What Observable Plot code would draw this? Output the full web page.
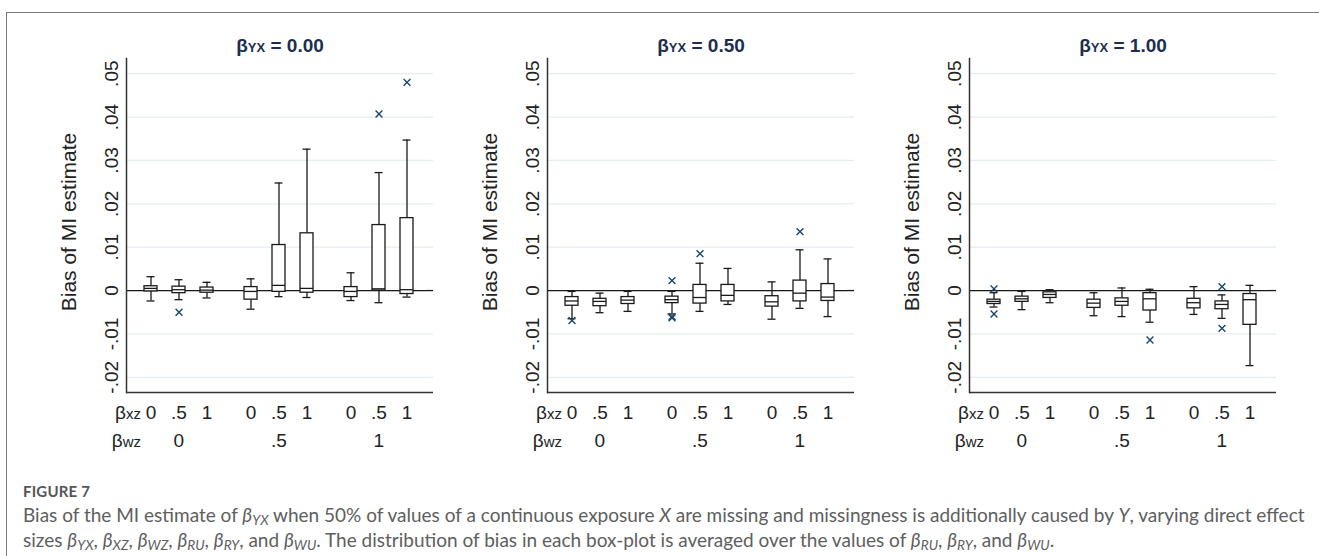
<!DOCTYPE html>
<html><head><meta charset="utf-8">
<script src="https://cdn.jsdelivr.net/npm/d3@7"></script>
<script src="https://cdn.jsdelivr.net/npm/@observablehq/plot@0.6"></script>
<style>
html,body{margin:0;padding:0;background:#fff;}
body{width:1319px;height:556px;overflow:hidden;position:relative;font-family:"Liberation Sans",Arial,sans-serif;}
#frame{position:absolute;left:6px;top:12px;width:1400px;height:600px;border-left:1px solid #7a7a7a;border-top:1px solid #7a7a7a;}
.panel{position:absolute;top:55px;}
.title{position:absolute;top:36px;transform:translateX(-50%);font-weight:bold;font-size:19px;line-height:1;color:#1c2e4f;white-space:nowrap;}
.title small{font-size:13px;}
.ylab{position:absolute;font-size:21px;line-height:1;color:#222;transform:translate(-50%,-50%) rotate(-90deg);white-space:nowrap;}
.blab{position:absolute;font-size:19px;line-height:1;color:#222;transform:translateX(-100%);white-space:nowrap;}
.blab small{font-size:15px;}
.cap{position:absolute;left:23px;white-space:nowrap;line-height:1;font-family:Lato,"Open Sans",sans-serif;color:#5e5e5e;}
.cap sub{font-size:0.72em;vertical-align:-0.25em;line-height:0;}
#fig{font-size:15px;font-weight:bold;color:#555;top:484px;letter-spacing:0.2px;}
</style></head>
<body>
<div id="frame"></div>
<div id="root"></div>
<div class="cap" id="fig">FIGURE 7</div>
<div class="cap" id="l1"><span>Bias of the MI estimate of <i>β<sub>YX</sub></i> when 50% of values of a continuous exposure <i>X</i> are missing and missingness is additionally caused by <i>Y</i>, varying direct effect</span></div>
<div class="cap" id="l2"><span>sizes <i>β<sub>YX</sub></i>, <i>β<sub>XZ</sub></i>, <i>β<sub>WZ</sub></i>, <i>β<sub>RU</sub></i>, <i>β<sub>RY</sub></i>, and <i>β<sub>WU</sub></i>. The distribution of bias in each box-plot is averaged over the values of <i>β<sub>RU</sub></i>, <i>β<sub>RY</sub></i>, and <i>β<sub>WU</sub></i>.</span></div>
<script>
// ---- data ----
const bYX = ["0.00", "0.50", "1.00"];
const bXZ = ["0", ".5", "1"];
const bWZ = ["0", ".5", "1"];
const yTicks = [-0.02, -0.01, 0, 0.01, 0.02, 0.03, 0.04, 0.05];
const yTickLabels = ["-.02", "-.01", "0", ".01", ".02", ".03", ".04", ".05"];
const yDomain = [-0.0235, 0.0535];

// box order within a panel: (βwz 0: βxz 0,.5,1), (βwz .5: ...), (βwz 1: ...)
const lowerWhisker = [
  [-0.0024, -0.0021, -0.0017, -0.0043, -0.0014, -0.0016, -0.0023, -0.0028, -0.0015],
  [-0.0065, -0.0051, -0.0048, -0.0054, -0.0048, -0.0032, -0.0066, -0.0041, -0.0060],
  [-0.0038, -0.0044, -0.0028, -0.0058, -0.0060, -0.0073, -0.0055, -0.0064, -0.0173]
];
const q1 = [
  [-0.0002, -0.0006, -0.0005, -0.0021, -0.0003, -0.0005, -0.0015, 0.0000, -0.0008],
  [-0.0035, -0.0036, -0.0031, -0.0029, -0.0030, -0.0025, -0.0037, -0.0025, -0.0024],
  [-0.0031, -0.0026, -0.0017, -0.0040, -0.0035, -0.0046, -0.0041, -0.0043, -0.0079]
];
const median = [
  [0.0005, 0.0002, 0.0001, -0.0002, 0.0012, 0.0005, -0.0002, 0.0004, 0.0002],
  [-0.0024, -0.0025, -0.0022, -0.0021, -0.0016, -0.0011, -0.0026, -0.0006, -0.0015],
  [-0.0025, -0.0019, -0.0009, -0.0029, -0.0025, -0.0019, -0.0028, -0.0032, -0.0021]
];
const q3 = [
  [0.0010, 0.0009, 0.0007, 0.0008, 0.0105, 0.0132, 0.0008, 0.0151, 0.0167],
  [-0.0015, -0.0019, -0.0015, -0.0014, 0.0013, 0.0013, -0.0013, 0.0023, 0.0015],
  [-0.0021, -0.0014, -0.0004, -0.0021, -0.0018, -0.0006, -0.0019, -0.0025, -0.0008]
];
const upperWhisker = [
  [0.0032, 0.0025, 0.0019, 0.0027, 0.0248, 0.0326, 0.0041, 0.0272, 0.0347],
  [-0.0002, -0.0006, -0.0002, -0.0002, 0.0063, 0.0051, 0.0020, 0.0094, 0.0073],
  [-0.0005, -0.0002, 0.0002, -0.0005, 0.0006, 0.0003, 0.0009, -0.0010, 0.0012]
];
// outliers
const outlierPanel = [0, 0, 0, 1, 1, 1, 1, 1, 1, 2, 2, 2, 2, 2];
const outlierWZ    = ["0", "1", "1", "0", ".5", ".5", ".5", ".5", "1", "0", "0", ".5", "1", "1"];
const outlierXZ    = [".5", ".5", "1", "0", "0", "0", "0", ".5", ".5", "0", "0", "1", ".5", ".5"];
const outlierValue = [-0.0050, 0.0407, 0.0480, -0.0069, 0.0023, -0.0060, -0.0063, 0.0085, 0.0136, 0.0004, -0.0054, -0.0114, 0.0009, -0.0087];

// ---- layout ----
const panelLeft = [40, 461, 883];
const W = 420, H = 400, ML = 86, MR = 26, MT = 3, MB = 63;
const root = document.getElementById("root");
const lineCol = "#1a1a1a";

bYX.forEach((yx, p) => {
  const rows = bWZ.flatMap((wz, g) => bXZ.map((xz, j) => {
    const i = g * 3 + j;
    return {wz, xz, lo: lowerWhisker[p][i], q1: q1[p][i], med: median[p][i], q3: q3[p][i], hi: upperWhisker[p][i]};
  }));
  const outs = outlierValue.map((v, k) => ({p: outlierPanel[k], wz: outlierWZ[k], xz: outlierXZ[k], v})).filter(d => d.p === p);

  const chart = Plot.plot({
    width: W, height: H, marginLeft: ML, marginRight: MR, marginTop: MT, marginBottom: MB,
    style: {fontFamily: "Liberation Sans, Arial, sans-serif", color: "#222", background: "transparent", overflow: "visible"},
    y: {domain: yDomain},
    x: {domain: bXZ, paddingInner: 0.5455, paddingOuter: 0.528, align: 0.58},
    fx: {domain: bWZ, paddingInner: 0, paddingOuter: 0.034, align: 0},
    marks: [
      // grid lines, zero line and bottom axis line (extended over the right padding in the last facet)
      Plot.ruleY(yTicks, {stroke: "#e4edf0", strokeWidth: 1.3}),
      Plot.ruleY(yTicks, {stroke: "#e4edf0", strokeWidth: 1.3, facetAnchor: "right", insetLeft: 100, insetRight: -7}),
      Plot.ruleY([0], {stroke: lineCol, strokeWidth: 1.3}),
      Plot.ruleY([0], {stroke: lineCol, strokeWidth: 1.3, facetAnchor: "right", insetLeft: 100, insetRight: -7}),
      Plot.ruleY([yDomain[0]], {stroke: "#333", strokeWidth: 1.5}),
      Plot.ruleY([yDomain[0]], {stroke: "#333", strokeWidth: 1.5, facetAnchor: "right", insetLeft: 100, insetRight: -7}),
      Plot.frame({anchor: "left", facetAnchor: "left", stroke: "#333", strokeWidth: 1.5}),
      // boxes
      Plot.ruleX(rows, {fx: "wz", x: "xz", y1: "lo", y2: "q1", stroke: lineCol, strokeWidth: 1.3}),
      Plot.ruleX(rows, {fx: "wz", x: "xz", y1: "q3", y2: "hi", stroke: lineCol, strokeWidth: 1.3}),
      Plot.tickY(rows, {fx: "wz", x: "xz", y: "lo", insetLeft: 2.5, insetRight: 2.5, stroke: lineCol, strokeWidth: 1.3}),
      Plot.tickY(rows, {fx: "wz", x: "xz", y: "hi", insetLeft: 2.5, insetRight: 2.5, stroke: lineCol, strokeWidth: 1.3}),
      Plot.barY(rows, {fx: "wz", x: "xz", y1: "q1", y2: "q3", fill: "white", stroke: lineCol, strokeWidth: 1.3}),
      Plot.tickY(rows, {fx: "wz", x: "xz", y: "med", stroke: lineCol, strokeWidth: 1.3}),
      Plot.dot(outs, {fx: "wz", x: "xz", y: "v", symbol: "times", r: 3.2, stroke: "#1a476f", strokeWidth: 1.4}),
      // axes
      Plot.axisY(yTicks, {tickFormat: d => yTickLabels[yTicks.indexOf(d)], tickSize: 0, tickPadding: 9, rotate: -90, textAnchor: "middle", lineAnchor: "bottom", fontSize: 19, label: null}),
      Plot.axisX({tickSize: 0, tickPadding: 13, fontSize: 19, label: null}),
      Plot.axisFx({anchor: "bottom", tickSize: 0, tickPadding: 41, fontSize: 19, label: null, dx: 2.4})
    ]
  });
  const wrap = document.createElement("div");
  wrap.className = "panel";
  wrap.style.left = panelLeft[p] + "px";
  wrap.appendChild(chart);
  root.appendChild(wrap);

  const L = panelLeft[p];
  const t = document.createElement("div");
  t.className = "title";
  t.style.left = (L + ML + (W - ML - MR) / 2) + "px";
  t.innerHTML = "β<small>YX</small> = " + yx;
  root.appendChild(t);

  const yl = document.createElement("div");
  yl.className = "ylab";
  yl.style.left = (L + 28) + "px";
  yl.style.top = "222px";
  yl.textContent = "Bias of MI estimate";
  root.appendChild(yl);

  const bx = document.createElement("div");
  bx.className = "blab";
  bx.style.left = (L + 101) + "px";
  bx.style.top = "403px";
  bx.innerHTML = "β<small>xz</small>";
  root.appendChild(bx);

  const bw = document.createElement("div");
  bw.className = "blab";
  bw.style.left = (L + 101) + "px";
  bw.style.top = "431px";
  bw.innerHTML = "β<small>wz</small>";
  root.appendChild(bw);
});

// caption fit
function fitCaption() {
  const l1 = document.getElementById("l1"), l2 = document.getElementById("l2");
  let fs = 16;
  l1.style.fontSize = fs + "px"; l2.style.fontSize = fs + "px";
  const w = l1.firstElementChild.getBoundingClientRect().width;
  fs = fs * 1282 / w;
  l1.style.fontSize = fs + "px"; l2.style.fontSize = fs + "px";
  l1.style.top = (521 - 0.85 * fs) + "px";
  l2.style.top = (546 - 0.85 * fs) + "px";
}
fitCaption();
if (document.fonts && document.fonts.ready) document.fonts.ready.then(fitCaption);
</script>
</body></html>
